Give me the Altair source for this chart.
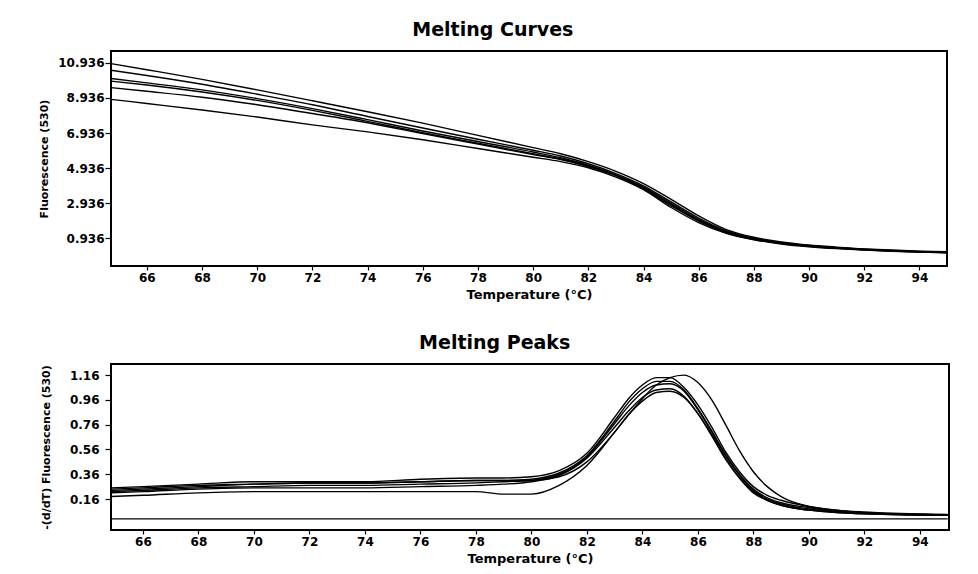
import altair as alt
import pandas as pd

FONT = "DejaVu Sans"

# ---------------- Melting curves (top) ----------------
curve_temps = [64.7, 66, 68, 70, 72, 74, 76, 78, 80, 81, 82, 83, 84, 85, 86, 87, 88, 89, 90, 91, 92, 93, 94, 95]
curve_1 = [10.90, 10.55, 10.00, 9.40, 8.78, 8.15, 7.50, 6.80, 6.10, 5.75, 5.30, 4.75, 4.05, 3.15, 2.20, 1.42, 0.98, 0.72, 0.54, 0.42, 0.32, 0.25, 0.19, 0.15]
curve_2 = [10.52, 10.22, 9.72, 9.15, 8.55, 7.88, 7.22, 6.58, 5.95, 5.62, 5.18, 4.62, 3.92, 3.00, 2.08, 1.35, 0.93, 0.68, 0.50, 0.39, 0.30, 0.23, 0.17, 0.13]
curve_3 = [10.05, 9.80, 9.40, 8.90, 8.33, 7.70, 7.05, 6.45, 5.85, 5.52, 5.10, 4.55, 3.85, 2.92, 2.00, 1.30, 0.90, 0.66, 0.49, 0.38, 0.29, 0.22, 0.16, 0.12]
curve_4 = [9.90, 9.68, 9.28, 8.80, 8.23, 7.60, 6.95, 6.35, 5.75, 5.45, 5.05, 4.52, 3.80, 2.85, 1.95, 1.27, 0.88, 0.64, 0.47, 0.36, 0.27, 0.20, 0.15, 0.11]
curve_5 = [9.53, 9.32, 8.98, 8.55, 8.05, 7.52, 6.90, 6.30, 5.70, 5.42, 5.02, 4.50, 3.75, 2.78, 1.90, 1.24, 0.86, 0.62, 0.46, 0.35, 0.26, 0.19, 0.14, 0.10]
curve_6 = [8.86, 8.62, 8.25, 7.85, 7.40, 7.00, 6.55, 6.05, 5.55, 5.30, 4.95, 4.42, 3.70, 2.68, 1.82, 1.20, 0.84, 0.60, 0.44, 0.33, 0.25, 0.18, 0.13, 0.09]
curve_ticks_x = [66, 68, 70, 72, 74, 76, 78, 80, 82, 84, 86, 88, 90, 92, 94]
curve_ticks_y = [0.936, 2.936, 4.936, 6.936, 8.936, 10.936]

# ---------------- Melting peaks (bottom) ----------------
peak_temps = [64.85, 66, 68, 70, 72, 74, 76, 78, 79, 80, 81, 82, 83, 83.5, 84, 84.5, 85, 85.5, 86, 86.5, 87, 87.5, 88, 88.5, 89, 90, 91, 92, 93, 94, 95]
peak_1 = [0.24, 0.25, 0.27, 0.28, 0.29, 0.29, 0.30, 0.31, 0.31, 0.31, 0.34, 0.46, 0.70, 0.84, 0.97, 1.08, 1.14, 1.16, 1.10, 0.96, 0.76, 0.55, 0.38, 0.26, 0.18, 0.10, 0.07, 0.05, 0.04, 0.035, 0.03]
peak_2 = [0.25, 0.26, 0.28, 0.30, 0.30, 0.30, 0.32, 0.33, 0.33, 0.34, 0.39, 0.53, 0.82, 0.97, 1.08, 1.14, 1.14, 1.06, 0.92, 0.74, 0.54, 0.38, 0.26, 0.19, 0.15, 0.10, 0.07, 0.055, 0.045, 0.04, 0.035]
peak_3 = [0.23, 0.24, 0.26, 0.28, 0.29, 0.29, 0.30, 0.31, 0.31, 0.32, 0.37, 0.51, 0.79, 0.94, 1.05, 1.11, 1.11, 1.04, 0.89, 0.71, 0.52, 0.36, 0.24, 0.17, 0.13, 0.09, 0.06, 0.05, 0.04, 0.035, 0.03]
peak_4 = [0.22, 0.23, 0.25, 0.26, 0.27, 0.27, 0.28, 0.29, 0.30, 0.31, 0.36, 0.50, 0.77, 0.91, 1.02, 1.08, 1.09, 1.03, 0.88, 0.70, 0.51, 0.35, 0.23, 0.16, 0.12, 0.08, 0.055, 0.045, 0.04, 0.035, 0.03]
peak_5 = [0.21, 0.22, 0.24, 0.25, 0.25, 0.25, 0.26, 0.27, 0.28, 0.30, 0.35, 0.49, 0.74, 0.87, 0.98, 1.04, 1.05, 0.99, 0.85, 0.68, 0.49, 0.33, 0.21, 0.15, 0.11, 0.07, 0.05, 0.04, 0.035, 0.03, 0.03]
peak_6 = [0.18, 0.19, 0.21, 0.22, 0.22, 0.22, 0.22, 0.22, 0.20, 0.20, 0.27, 0.43, 0.70, 0.84, 0.95, 1.02, 1.03, 0.98, 0.85, 0.67, 0.48, 0.33, 0.22, 0.15, 0.11, 0.07, 0.05, 0.04, 0.035, 0.03, 0.03]
peak_blank = [0.0] * len(peak_temps)
peak_ticks_x = [66, 68, 70, 72, 74, 76, 78, 80, 82, 84, 86, 88, 90, 92, 94]
peak_ticks_y = [0.16, 0.36, 0.56, 0.76, 0.96, 1.16]


def long_frame(temps, series):
    return pd.concat(
        [pd.DataFrame({"t": temps, "v": vals, "s": name}) for name, vals in series.items()],
        ignore_index=True,
    )


df_curves = long_frame(curve_temps, {"c1": curve_1, "c2": curve_2, "c3": curve_3,
                                     "c4": curve_4, "c5": curve_5, "c6": curve_6})
df_peaks = long_frame(peak_temps, {"p0": peak_blank, "p1": peak_1, "p2": peak_2, "p3": peak_3,
                                   "p4": peak_4, "p5": peak_5, "p6": peak_6})


def panel(df, title, ytitle, xdom, ydom, xticks, yticks, yfmt, w, h, ytitle_pad, ylabel_pad):
    return alt.Chart(df).mark_line(
        color="black", strokeWidth=1.4, interpolate="monotone", clip=True
    ).encode(
        x=alt.X("t:Q",
                scale=alt.Scale(domain=xdom, nice=False, zero=False),
                axis=alt.Axis(values=xticks, title="Temperature (°C)", format="d",
                              tickSize=4, labelPadding=2, titlePadding=5)),
        y=alt.Y("v:Q",
                scale=alt.Scale(domain=ydom, nice=False, zero=False),
                axis=alt.Axis(values=yticks, title=ytitle, format=yfmt,
                              tickSize=6, labelPadding=ylabel_pad, titlePadding=ytitle_pad)),
        detail="s:N",
    ).properties(
        width=w, height=h,
        title=alt.TitleParams(title, frame="bounds", anchor="middle", font=FONT,
                              fontSize=19, fontWeight=900, color="black", offset=11),
    )


top = panel(df_curves, "Melting Curves", "Fluorescence (530)", [64.7, 95.0], [-0.66, 11.62],
            curve_ticks_x, curve_ticks_y, ".3f", 836, 215, 8, 1)
bottom = panel(df_peaks, "Melting Peaks", "-(d/dT) Fluorescence (530)", [64.85, 95.05], [-0.09, 1.25],
               peak_ticks_x, peak_ticks_y, ".2f", 838, 166, 18, 6)

chart = alt.vconcat(top, bottom, spacing=31).properties(
    padding={"left": 29, "top": 12, "right": 5, "bottom": 0},
    background="white",
).configure_view(
    stroke="black", strokeWidth=2
).configure_axis(
    domain=False, grid=False, tickColor="black", tickWidth=1.2,
    labelColor="black", labelFont=FONT, labelFontSize=12, labelFontWeight="bold",
    titleColor="black", titleFont=FONT, titleFontSize=13, titleFontWeight="bold",
).configure_axisY(
    titleFontSize=11,
)

chart.save("out.html", embed_options={"renderer": "svg", "actions": False})
